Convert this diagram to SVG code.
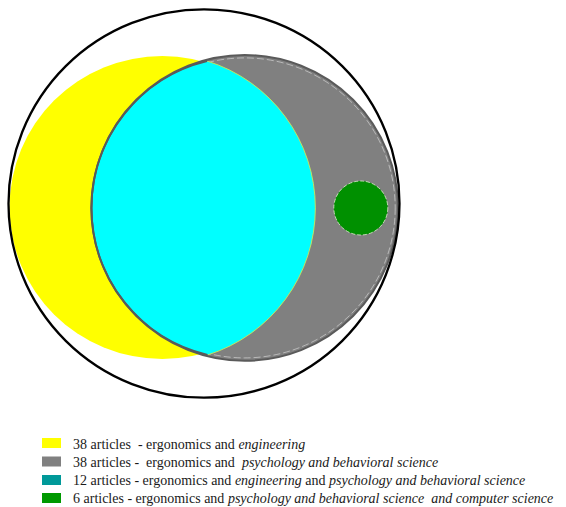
<svg xmlns="http://www.w3.org/2000/svg" width="566" height="507" viewBox="0 0 566 507">
<style>
.lg{font-family:"Liberation Serif","Times New Roman",serif;font-size:14px;fill:#1a1a1a;white-space:pre}
.it{font-style:italic}
.sw{stroke:none}
</style>
<rect x="0" y="0" width="566" height="507" fill="#ffffff"/>
<g id="diagram">
  <g id="engineering">
    <ellipse cx="162.3" cy="207.5" rx="152.8" ry="151.5" fill="#ffff00"/>
  </g>
  <g id="psychology">
    <ellipse cx="244.7" cy="207.9" rx="153.3" ry="152.9" fill="#808080"/>
    <ellipse cx="244.7" cy="207.9" rx="150.5" ry="150" fill="none" stroke="#e6e6e6" stroke-width="0.8" stroke-dasharray="7 3" opacity="0.7"/>
  </g>
  <g id="overlap">
    <path d="M207,61 A154,154 0 0 1 207.5,355 A151.2,151.2 0 0 1 207,61 Z" fill="#00ffff"/>
    <path d="M207,61 A154,154 0 0 1 207.5,355" fill="none" stroke="#c9e65a" stroke-width="0.9"/>
    <path d="M207.5,355 A151.2,151.2 0 0 1 207,61" fill="none" stroke="#5a5a5a" stroke-width="2"/>
    <ellipse cx="244.7" cy="207.9" rx="153.3" ry="152.9" fill="none" stroke="#5a5a5a" stroke-width="2"/>
  </g>
  <g id="computer-science">
    <circle cx="360.8" cy="208" r="27" fill="#009000" stroke="#d8f0c8" stroke-width="0.8" stroke-dasharray="4 2"/>
  </g>
  <g id="ergonomics">
    <ellipse cx="204" cy="203.5" rx="195.5" ry="194.2" fill="none" stroke="#000000" stroke-width="2.3"/>
  </g>
</g>
<g id="legend">
  <rect class="sw" x="42" y="438" width="19" height="10" fill="#ffff00"/>
  <rect class="sw" x="42" y="456.5" width="19" height="10" fill="#808080"/>
  <rect class="sw" x="42" y="475" width="19" height="10" fill="#009999"/>
  <rect class="sw" x="42" y="493" width="19" height="10" fill="#009900"/>
  <text class="lg" x="73" y="448.5">38 articles  - ergonomics and <tspan class="it">engineering</tspan></text>
  <text class="lg" x="73" y="466.5">38 articles -  ergonomics and  <tspan class="it">psychology and behavioral science</tspan></text>
  <text class="lg" x="73" y="484.5">12 articles - ergonomics and <tspan class="it">engineering</tspan> and <tspan class="it">psychology and behavioral science</tspan></text>
  <text class="lg" x="73" y="502.5">6 articles - ergonomics and <tspan class="it">psychology and behavioral science  and computer science</tspan></text>
</g>
</svg>
